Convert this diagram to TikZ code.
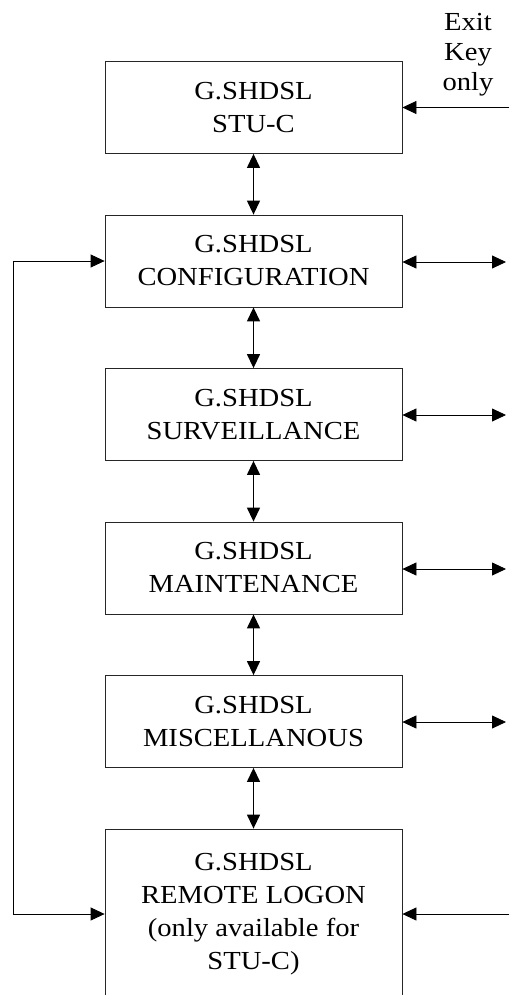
\documentclass[tikz,border=0pt]{standalone}
\usepackage{fontspec}
\setmainfont{Liberation Serif}[FakeStretch=1.1]
\usetikzlibrary{arrows.meta}
\begin{document}
\begin{tikzpicture}[x=1pt,y=-1pt,
  >={Triangle[length=14pt,width=13pt]},
  menubox/.style={draw=black!85, line width=0.8pt, rectangle, inner sep=0pt,
    minimum width=297pt, minimum height=92pt, align=center,
    font=\fontsize{26}{33}\selectfont},
  link/.style={line width=0.8pt},
  updown/.style={line width=1.3pt, <->}]
\useasboundingbox (0,0) rectangle (509,995);
\clip (0,0) rectangle (509,995);

% menu boxes
\node[menubox] (stu)    at (253.5,107.5) {G.SHDSL\\STU-C};
\node[menubox] (config) at (253.5,261)   {G.SHDSL\\CONFIGURATION};
\node[menubox] (surv)   at (253.5,414.5) {G.SHDSL\\SURVEILLANCE};
\node[menubox] (maint)  at (253.5,568)   {G.SHDSL\\MAINTENANCE};
\node[menubox] (misc)   at (253.5,721.5) {G.SHDSL\\MISCELLANOUS};
\node[menubox, minimum height=170pt] (remote) at (253.5,914)
  {G.SHDSL\\REMOTE LOGON\\(only available for\\STU-C)};

% exit key label
\node[align=center, inner sep=0pt, font=\fontsize{26}{30}\selectfont] (exit) at (468,55) {Exit\\Key\\only};

% vertical navigation
\draw[updown] (stu.south)    -- (config.north);
\draw[updown] (config.south) -- (surv.north);
\draw[updown] (surv.south)   -- (maint.north);
\draw[updown] (maint.south)  -- (misc.north);
\draw[updown] (misc.south)   -- (remote.north);

% right-hand entries and exits
\coordinate (inStu)    at (509,107.5);
\coordinate (outConf)  at (506,262);
\coordinate (outSurv)  at (506,415);
\coordinate (outMaint) at (506,569);
\coordinate (outMisc)  at (506,722);
\coordinate (inRem)    at (509,914);
\draw[link,->] (inStu) -- (stu.east);
\draw[link,<->] (config.east |- outConf) -- (outConf);
\draw[link,<->] (surv.east |- outSurv) -- (outSurv);
\draw[link,<->] (maint.east |- outMaint) -- (outMaint);
\draw[link,<->] (misc.east |- outMisc) -- (outMisc);
\draw[link,->] (inRem) -- (remote.east);

% loop between remote logon and configuration
\coordinate (loopTop) at (13,261);
\coordinate (loopBot) at (13,914);
\draw[link,<->] (config.west) -- (loopTop) -- (loopBot) -- (remote.west);
\end{tikzpicture}
\end{document}
